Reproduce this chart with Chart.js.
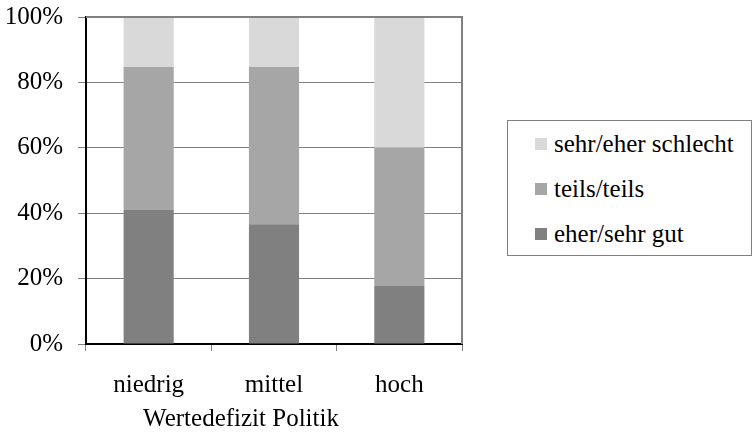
<!DOCTYPE html>
<html>
<head>
<meta charset="utf-8">
<script src="https://cdn.jsdelivr.net/npm/chart.js@4"></script>
<style>
  html, body { margin: 0; padding: 0; background: #fff; }
  #wrap { position: relative; width: 754px; height: 434px; }
  #legend {
    position: absolute; left: 507px; top: 120px; width: 245px; height: 136px;
    box-sizing: border-box; border: 1px solid #808080; background: #fff;
    font-family: 'Liberation Serif', 'Times New Roman', serif; font-size: 25px; color: #000;
  }
  .item { display: flex; align-items: center; height: 45px; padding-left: 27px; }
  .sw { width: 12px; height: 12px; margin-right: 7px; flex: none; }
</style>
</head>
<body>
<div id="wrap">
  <canvas id="chart" width="754" height="434"></canvas>
  <div id="legend"></div>
</div>
<script>
// Wertedefizit Politik – Anteile in Prozent
const categories = ['niedrig', 'mittel', 'hoch'];
const seriesNames = ['eher/sehr gut', 'teils/teils', 'sehr/eher schlecht'];
const gut = [41.0, 36.6, 17.9];
const teils = [43.7, 48.1, 42.1];
const schlecht = [15.3, 15.3, 40.0];
const yTicks = [0, 20, 40, 60, 80, 100];
const xTitle = 'Wertedefizit Politik';
const colors = ['#808080', '#a6a6a6', '#d9d9d9'];

const serif = "'Liberation Serif', 'Times New Roman', serif";

// gray frame on top and right of the plot area + axis title (sits a bit left of centre)
const plotFrame = {
    id: 'plotFrame',
    afterDraw(chart) {
        const { ctx, chartArea: a } = chart;
        ctx.save();
        ctx.strokeStyle = '#808080';
        ctx.lineWidth = 2;
        ctx.beginPath();
        ctx.moveTo(a.left, a.top);
        ctx.lineTo(a.right, a.top);
        ctx.lineTo(a.right, a.bottom);
        ctx.stroke();

        ctx.fillStyle = '#000';
        ctx.font = `25px ${serif}`;
        ctx.textAlign = 'center';
        ctx.textBaseline = 'middle';
        ctx.fillText(xTitle, (a.left + a.right) / 2 - 33, chart.height - 15);
        ctx.restore();
    }
};

const values = [gut, teils, schlecht];
const chart = new Chart(document.getElementById('chart'), {
    type: 'bar',
    data: {
        labels: categories,
        datasets: seriesNames.map((name, i) => ({
            label: name,
            data: values[i],
            backgroundColor: colors[i],
            borderWidth: 0,
            barPercentage: 0.4,
            categoryPercentage: 1
        }))
    },
    options: {
        responsive: false,
        animation: false,
        devicePixelRatio: 1,
        layout: { padding: { left: 0, right: 292, top: 17, bottom: 29 } },
        plugins: {
            legend: { display: false },
            tooltip: { enabled: false }
        },
        scales: {
            x: {
                stacked: true,
                grid: { offset: true, drawOnChartArea: false, drawTicks: true, tickLength: 7, color: '#808080' },
                border: { color: '#000', width: 2 },
                ticks: { color: '#000', padding: 19, font: { family: serif, size: 25 } },
                afterFit(scale) { scale.height = 61; }
            },
            y: {
                stacked: true,
                min: 0,
                max: 100,
                afterBuildTicks(scale) { scale.ticks = yTicks.map(v => ({ value: v })); },
                grid: { color: '#808080', lineWidth: 1, tickLength: 8 },
                border: { color: '#000', width: 2 },
                ticks: { color: '#000', padding: 15, font: { family: serif, size: 25 }, callback: v => v + '%' },
                afterFit(scale) {
                    scale.width = 86;
                    scale.paddingTop = 0;
                    scale.paddingBottom = 0;
                }
            }
        }
    },
    plugins: [plotFrame]
});

// legend box, top entry = top segment
const legend = document.getElementById('legend');
legend.innerHTML = seriesNames.map((name, i) => ({ name, color: colors[i] })).reverse().map(s => `
    <div class="item"><span class="sw" style="background:${s.color}"></span>${s.name}</div>
`).join('');
</script>
</body>
</html>
